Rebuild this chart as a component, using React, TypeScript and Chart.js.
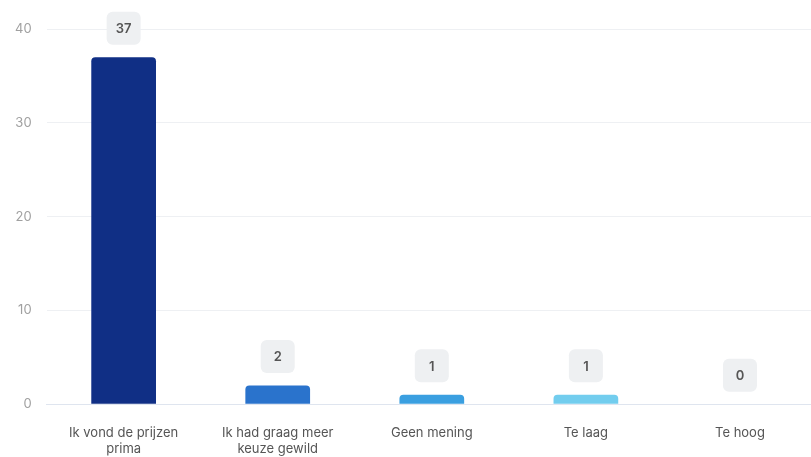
import React, { useEffect, useRef } from "react";
import { Chart, registerables } from "chart.js";

Chart.register(...registerables);

const categories: (string | string[])[] = [
  ["Ik vond de prijzen", "prima"],
  ["Ik had graag meer", "keuze gewild"],
  "Geen mening",
  "Te laag",
  "Te hoog",
];
const values = [37, 2, 1, 1, 0];
const barColors = ["#102f85", "#2a73cc", "#3a9fe0", "#72cdee", "#b0e0f4"];
const yTicks = [0, 10, 20, 30, 40];

const FONT = "Inter, 'Noto Sans', sans-serif";

const valueBoxPlugin = {
  id: "valueBoxes",
  afterDatasetsDraw(chart: any) {
    const ctx = chart.ctx;
    const meta = chart.getDatasetMeta(0);
    const ds = chart.data.datasets[0];
    ctx.save();
    meta.data.forEach((bar: any, i: number) => {
      const v = ds.data[i];
      const cx = bar.x;
      const cy = bar.y - 29;
      const w = 34;
      const h = 33;
      ctx.fillStyle = "#eef0f2";
      ctx.beginPath();
      (ctx as any).roundRect(cx - w / 2, cy - h / 2, w, h, 6);
      ctx.fill();
      ctx.fillStyle = "#555555";
      ctx.font = "600 13px " + FONT;
      ctx.textAlign = "center";
      ctx.textBaseline = "middle";
      ctx.fillText(String(v), cx, cy + 1);
    });
    ctx.restore();
  },
};

export default function App() {
  const ref = useRef<HTMLCanvasElement | null>(null);
  useEffect(() => {
    if (!ref.current) return;
    const chart = new Chart(ref.current, {
      type: "bar",
      data: {
        labels: categories,
        datasets: [
          {
            data: values,
            backgroundColor: barColors,
            borderRadius: { topLeft: 4, topRight: 4, bottomLeft: 0, bottomRight: 0 },
            borderSkipped: false,
            barPercentage: 0.84,
            categoryPercentage: 0.5,
          },
        ],
      },
      options: {
        animation: false,
        responsive: false,
        maintainAspectRatio: false,
        layout: { padding: { top: 29, right: 0, left: 0, bottom: 0 } },
        plugins: { legend: { display: false }, tooltip: { enabled: false } },
        scales: {
          x: {
            grid: { display: false, drawTicks: false },
            border: { display: true, color: "#dfe5ef", width: 1 },
            ticks: {
              color: "#555555",
              font: { size: 13, family: FONT, lineHeight: 1.3 },
              padding: 20,
              maxRotation: 0,
              autoSkip: false,
            },
          },
          y: {
            min: 0,
            max: 40,
            afterBuildTicks: (axis: any) => {
              axis.ticks = yTicks.map((v) => ({ value: v }));
            },
            grid: { color: "#eef0f3", drawTicks: false },
            border: { display: false },
            ticks: {
              color: "#a0a0a0",
              font: { size: 13, family: FONT },
              padding: 15,
            },
          },
        },
      },
      plugins: [valueBoxPlugin],
    });
    return () => chart.destroy();
  }, []);
  return (
    <div style={{ position: "fixed", left: 0, top: 0, width: 811, height: 457, overflow: "hidden", background: "#fff" }}>
      <canvas ref={ref} width={817} height={478} style={{ width: 817, height: 478, display: "block" }} />
    </div>
  );
}
